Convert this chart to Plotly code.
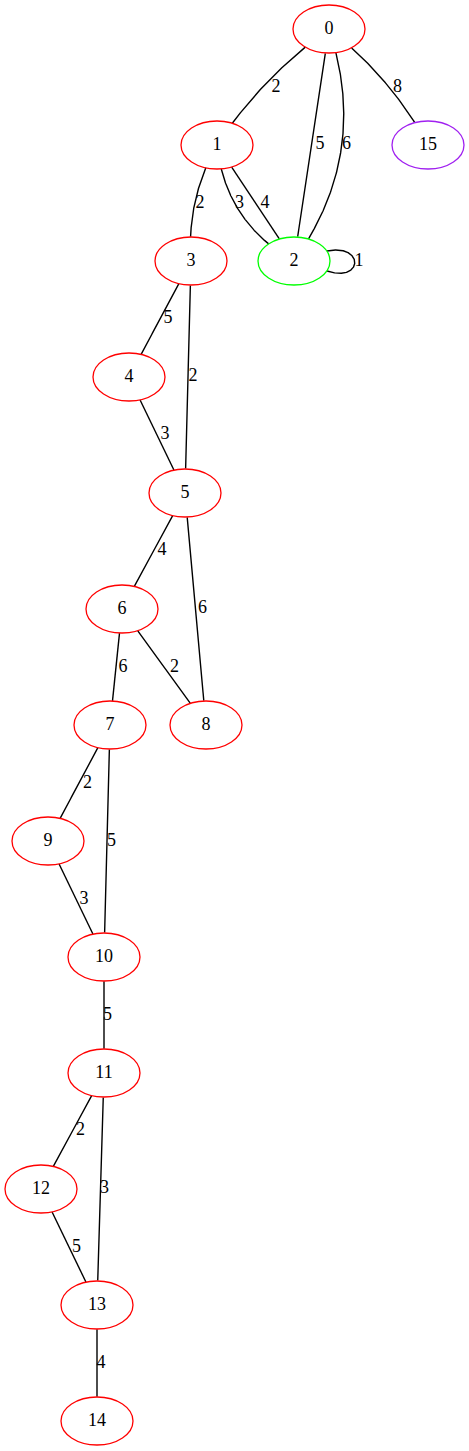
import numpy as np
import plotly.graph_objects as go

# graph data
nodes = [str(i) for i in range(16)]
node_color = ["red", "red", "#00ff00", "red", "red", "red", "red", "red",
              "red", "red", "red", "red", "red", "red", "red", "#a020f0"]
# layout positions (dot layout, px)
node_x = [329, 217, 294, 191, 129, 185, 122, 110, 206, 48, 104, 104, 41, 97, 97, 428]
node_y = [29, 145, 261, 261, 377, 493, 609, 725, 725, 841, 957, 1073, 1189, 1305, 1421, 145]

edge_src = [0, 0, 0, 0, 1, 1, 1, 2, 3, 3, 4, 5, 5, 6, 6, 7, 7, 9, 10, 11, 11, 12, 13]
edge_dst = [1, 2, 2, 15, 3, 2, 2, 2, 4, 5, 5, 6, 8, 7, 8, 9, 10, 10, 11, 12, 13, 13, 14]
edge_weight = [2, 5, 6, 8, 2, 3, 4, 1, 5, 2, 3, 4, 6, 6, 2, 2, 5, 3, 5, 2, 3, 5, 4]

# style / routing tweaks
RX, RY = 36, 24
W, H = 469, 1451
bend = {0: 15, 2: -60, 3: -16, 4: 18, 5: 36}
lbl_off = [(3, 0), (8.5, -1), (35, -1), (19, 0), (-4, 0), (-16, 0), (9.5, 0), (65, 0),
           (8, -0.5), (5, -1), (8, -1), (8.5, -1), (7, -1), (7, 0), (10.5, 0), (8.5, 0),
           (4.5, 0), (8, 0), (3.5, 0), (8, -1), (4, -1), (7.5, 0), (4, 0)]
font = "Liberation Serif, Times New Roman, serif"


def inside(px, py, n):
    return ((px - node_x[n]) / RX) ** 2 + ((py - node_y[n]) / RY) ** 2 < 1


ex, ey = [], []
lx, ly, lt = [], [], []
t = np.linspace(0, 1, 400)
for i, (s, d) in enumerate(zip(edge_src, edge_dst)):
    x0, y0 = node_x[s], node_y[s]
    x1, y1 = node_x[d], node_y[d]
    if s == d:
        # self loop on the right side
        p = [(x0 + 33, y0 - 10), (x0 + 70, y0 - 18), (x0 + 70, y0 + 22), (x0 + 33, y0 + 10)]
        w = [(1-t)**3, 3*t*(1-t)**2, 3*t**2*(1-t), t**3]
        bx = sum(c * px for c, (px, _) in zip(w, p))
        by = sum(c * py for c, (_, py) in zip(w, p))
        mx, my = x0, y0
    else:
        L = np.hypot(x1 - x0, y1 - y0)
        nx, ny = -(y1 - y0) / L, (x1 - x0) / L
        b = bend.get(i, 0)
        mx, my = (x0 + x1) / 2, (y0 + y1) / 2
        cx, cy = mx + b * nx, my + b * ny
        bx = (1-t)**2 * x0 + 2*t*(1-t) * cx + t**2 * x1
        by = (1-t)**2 * y0 + 2*t*(1-t) * cy + t**2 * y1
    keep = ~(inside(bx, by, s) | inside(bx, by, d))
    ex += list(bx[keep]) + [None]
    ey += list(by[keep]) + [None]
    lx.append(mx + lbl_off[i][0])
    ly.append(my + lbl_off[i][1])
    lt.append(str(edge_weight[i]))

fig = go.Figure()
fig.add_trace(go.Scatter(x=ex, y=ey, mode="lines",
                         line=dict(color="black", width=1.4), hoverinfo="skip"))
fig.add_trace(go.Scatter(x=lx, y=ly, mode="text", text=lt,
                         textfont=dict(family=font, size=18, color="black"),
                         hoverinfo="skip"))
fig.add_trace(go.Scatter(x=node_x, y=node_y, mode="text", text=nodes,
                         textfont=dict(family=font, size=18, color="black"),
                         hoverinfo="skip"))

for n in range(len(nodes)):
    fig.add_shape(type="circle", xref="x", yref="y",
                  x0=node_x[n] - RX, x1=node_x[n] + RX,
                  y0=node_y[n] - RY, y1=node_y[n] + RY,
                  line=dict(color=node_color[n], width=1.3))

fig.update_layout(width=W, height=H, margin=dict(l=0, r=0, t=0, b=0),
                  showlegend=False, plot_bgcolor="white", paper_bgcolor="white")
fig.update_xaxes(range=[0, W], visible=False)
fig.update_yaxes(range=[H, 0], visible=False)

# drop the default page margin so the figure sits at the window's corner
fig.write_html("out.html", config={"displayModeBar": False},
               post_script="document.body.style.margin='0';")
